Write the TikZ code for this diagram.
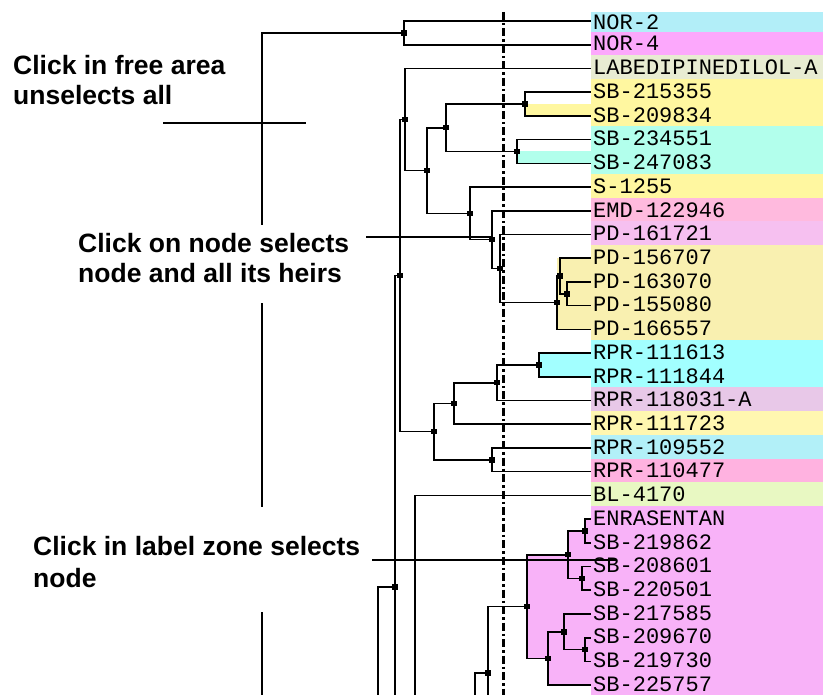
\documentclass[tikz,border=0pt]{standalone}
\usepackage{fontspec}
\setmainfont{Liberation Sans}
\newfontfamily\labfont{Liberation Mono}
\definecolor{cNORa}{RGB}{178,238,248}
\definecolor{cNORb}{RGB}{252,168,252}
\definecolor{cLAB}{RGB}{232,236,210}
\definecolor{cYel}{RGB}{255,247,160}
\definecolor{cAqua}{RGB}{178,255,236}
\definecolor{cEMD}{RGB}{255,186,222}
\definecolor{cPDa}{RGB}{246,192,240}
\definecolor{cPDb}{RGB}{249,240,176}
\definecolor{cCyan}{RGB}{162,255,255}
\definecolor{cLil}{RGB}{232,200,232}
\definecolor{cYelb}{RGB}{255,247,176}
\definecolor{cLCyan}{RGB}{178,240,248}
\definecolor{cPink}{RGB}{255,178,224}
\definecolor{cBL}{RGB}{232,248,194}
\definecolor{cMag}{RGB}{248,178,248}
\begin{document}
\begin{tikzpicture}[x=1pt,y=-1pt,
  tree/.style={line width=1.6pt, black},
  dotn/.style={rectangle, fill=black, inner sep=0pt, minimum size=5.5pt},
  lab/.style={anchor=west, inner xsep=2pt, inner ysep=0pt, minimum height=24.2pt, minimum width=232pt, text width=228pt, align=left, font=\labfont\fontsize{22}{24}\selectfont},
  ann/.style={anchor=base west, inner sep=0pt, font=\bfseries\fontsize{26.5}{30}\selectfont},
  dashdot/.style={line width=3pt, black, dash pattern=on 8pt off 3pt on 2.5pt off 3pt},
]
\useasboundingbox (0,0) rectangle (823,695);
\clip (0,0) rectangle (823,695);
\fill[white] (0,0) rectangle (823,695);

% leaf line ends
\foreach \i/\y in {0/21,1/44.72,2/68.44,3/92.16,4/115.88,5/139.6,6/163.32,7/187.04,8/210.76,9/234.48,10/258.2,11/281.92,12/305.64,13/329.36,14/353.08,15/376.8,16/400.52,17/424.24,18/447.96,19/471.68,20/495.4,21/519.12,22/542.84,23/566.56,24/590.28,25/614,26/637.72,27/661.44,28/685.16}
  \coordinate (e\i) at (591,\y);

% internal nodes
\coordinate (n0) at (404,32.86);
\coordinate (A) at (405,119.5);
\coordinate (B) at (427,170.55);
\coordinate (C) at (446,127.74);
\coordinate (Pa) at (525,104.02);
\coordinate (Pb) at (517,151.46);
\coordinate (D) at (470,213.36);
\coordinate (E) at (492,239.67);
\coordinate (F) at (500,268.58);
\coordinate (G) at (557,302.68);
\coordinate (Gp) at (560,275.99);
\coordinate (H) at (567,293.78);
\coordinate (I) at (400,275.58);
\coordinate (J) at (434,431.66);
\coordinate (N) at (454,403.49);
\coordinate (P) at (497,382.73);
\coordinate (Q) at (539,364.94);
\coordinate (O) at (492,459.82);
\coordinate (K) at (395,587);
\coordinate (P1) at (585,530.98);
\coordinate (P2) at (582,578.42);
\coordinate (N568) at (568,554.7);
\coordinate (P3) at (585,649.58);
\coordinate (N564) at (564,631.79);
\coordinate (N548) at (548,658.48);
\coordinate (N527) at (527,606.59);
\coordinate (M) at (488,673);
% off-screen ends
\coordinate (root) at (262,760);
\coordinate (Kp) at (378,760);
\coordinate (Kc) at (395,760);
\coordinate (Lc) at (415,760);
\coordinate (Mc) at (488,760);
\coordinate (Mp) at (475,760);

% cluster backgrounds
\fill[cYel] (Pa) rectangle (e4);
\fill[cAqua] (Pb) rectangle (e6);
\fill[cPDb] (557,258.2) rectangle (e13);
\fill[cCyan] (Q |- e14) rectangle (e15);
\fill[cMag] (527,554.7) rectangle (591,658.48);
\fill[cMag] (568,530.98) rectangle (591,578.42);
\fill[cMag] (585,519.12) rectangle (591,542.84);
\fill[cMag] (582,566.56) rectangle (591,590.28);
\fill[cMag] (548,631.79) rectangle (591,685.16);
\fill[cMag] (564,614) rectangle (591,649.58);
\fill[cMag] (585,637.72) rectangle (591,661.44);

% labels
\node[lab, fill=cNORa, minimum height=20.5pt] (L0) at (591,22.2) {NOR-2};
\node[lab, fill=cNORb] (L1) at (591,43.72) {NOR-4};
\node[lab, fill=cLAB] (L2) at (591,67.44) {LABEDIPINEDILOL-A};
\node[lab, fill=cYel] (L3) at (591,91.16) {SB-215355};
\node[lab, fill=cYel] (L4) at (591,114.88) {SB-209834};
\node[lab, fill=cAqua] (L5) at (591,138.6) {SB-234551};
\node[lab, fill=cAqua] (L6) at (591,162.32) {SB-247083};
\node[lab, fill=cYel] (L7) at (591,186.04) {S-1255};
\node[lab, fill=cEMD] (L8) at (591,209.76) {EMD-122946};
\node[lab, fill=cPDa] (L9) at (591,233.48) {PD-161721};
\node[lab, fill=cPDb] (L10) at (591,257.2) {PD-156707};
\node[lab, fill=cPDb] (L11) at (591,280.92) {PD-163070};
\node[lab, fill=cPDb] (L12) at (591,304.64) {PD-155080};
\node[lab, fill=cPDb] (L13) at (591,328.36) {PD-166557};
\node[lab, fill=cCyan] (L14) at (591,352.08) {RPR-111613};
\node[lab, fill=cCyan] (L15) at (591,375.8) {RPR-111844};
\node[lab, fill=cLil] (L16) at (591,399.52) {RPR-118031-A};
\node[lab, fill=cYelb] (L17) at (591,423.24) {RPR-111723};
\node[lab, fill=cLCyan] (L18) at (591,446.96) {RPR-109552};
\node[lab, fill=cPink] (L19) at (591,470.68) {RPR-110477};
\node[lab, fill=cBL] (L20) at (591,494.4) {BL-4170};
\node[lab, fill=cMag] (L21) at (591,518.12) {ENRASENTAN};
\node[lab, fill=cMag] (L22) at (591,541.84) {SB-219862};
\node[lab, fill=cMag] (L23) at (591,565.56) {SB-208601};
\node[lab, fill=cMag] (L24) at (591,589.28) {SB-220501};
\node[lab, fill=cMag] (L25) at (591,613) {SB-217585};
\node[lab, fill=cMag] (L26) at (591,636.72) {SB-209670};
\node[lab, fill=cMag] (L27) at (591,660.44) {SB-219730};
\node[lab, fill=cMag, minimum height=22pt] (L28) at (591,683.9) {SB-225757};

% dash-dot cut line
\coordinate (dtop) at (503,12);
\coordinate (dbot) at (503,700);
\draw[dashdot] (dtop) -- (dbot);

% tree
\foreach \a/\b in {root/n0, n0/e0, n0/e1, Kp/K, K/I, I/A, I/J, A/e2, A/B, B/C, B/D,
  C/Pa, C/Pb, Pa/e3, Pa/e4, Pb/e5, Pb/e6, D/e7, D/E, E/e8, E/F, F/e9, F/G,
  G/Gp, G/e13, Gp/e10, Gp/H, H/e11, H/e12, J/N, J/O, N/P, N/e17, P/Q, P/e16,
  Q/e14, Q/e15, O/e18, O/e19, Lc/e20, Mp/M, M/N527, N527/N568, N527/N548,
  N568/P1, N568/P2, P1/e21, P1/e22, P2/e23, P2/e24, N548/N564, N548/e28,
  N564/e25, N564/P3, P3/e26, P3/e27}
  \draw[tree] (\a) |- (\b);
\draw[tree] (K) -- (Kc);
\draw[tree] (M) -- (Mc);

% node dots
\foreach \a in {n0,A,B,C,Pa,Pb,D,E,F,G,Gp,H,I,J,N,P,Q,O,K,P1,P2,N568,P3,N564,N548,N527,M}
  \node[dotn] (dot\a) at (\a) {};

% annotations
\node[ann] (t1a) at (13,75) {Click in free area};
\node[ann] (t1b) at (13,105) {unselects all};
\coordinate (x1a) at (163,123);
\coordinate (x1b) at (306,123);
\draw[tree] (x1a) -- (x1b);

\fill[white] (70,225) rectangle (362,303);
\node[ann] (t2a) at (78,253) {Click on node selects};
\node[ann] (t2b) at (78,283) {node and all its heirs};
\coordinate (p2) at (366,237);
\draw[tree] (p2) -- (E |- p2);

\fill[white] (25,507) rectangle (370,612);
\node[ann] (t3a) at (33,555) {Click in label zone selects};
\node[ann] (t3b) at (33,587) {node};
\coordinate (p3a) at (372,560);
\coordinate (p3b) at (617,560);
\draw[tree] (p3a) -- (p3b);
\end{tikzpicture}
\end{document}
